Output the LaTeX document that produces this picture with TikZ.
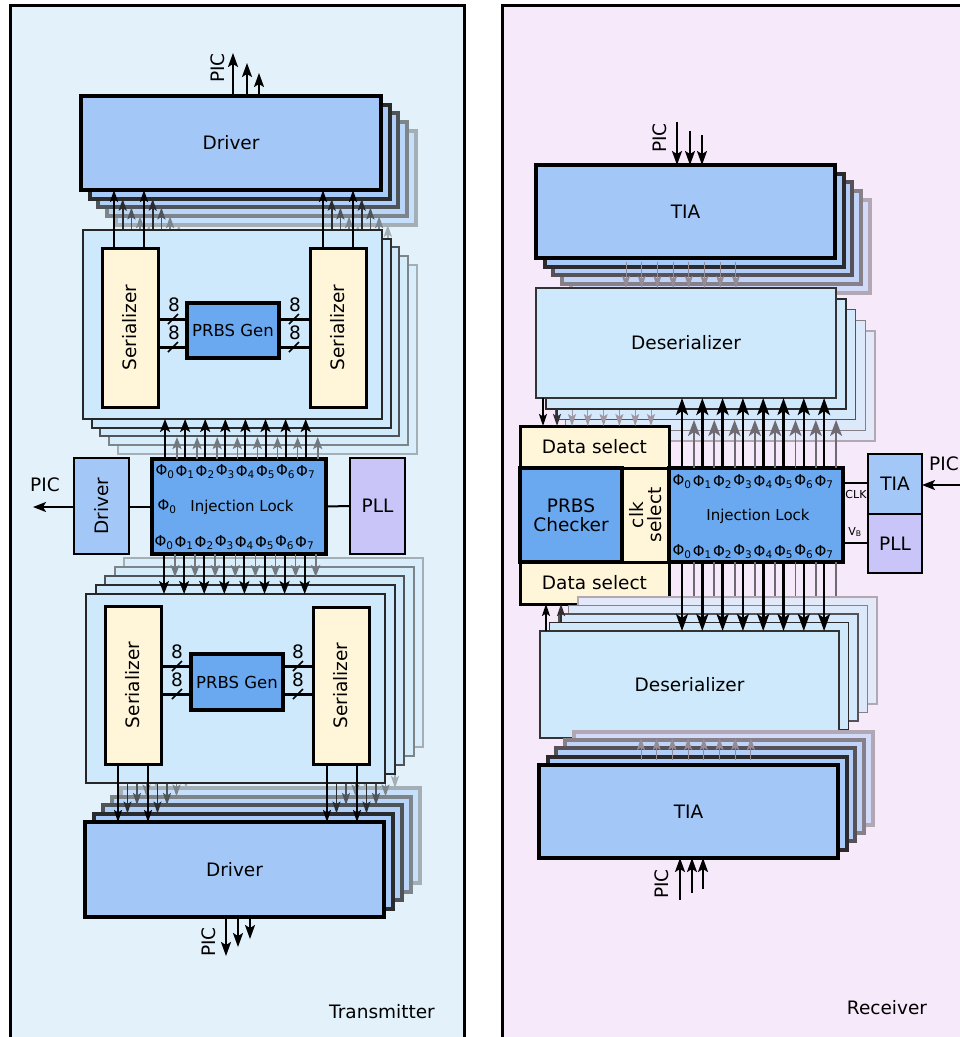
\documentclass[tikz,border=0pt]{standalone}
\usepackage{fontspec}
\setmainfont{DejaVu Sans}
\usetikzlibrary{arrows.meta}
\definecolor{txbg}{HTML}{E3F1FB}
\definecolor{rxbg}{HTML}{F6E9FA}
\definecolor{drvblue}{HTML}{A3C8F8}
\definecolor{serblk}{HTML}{CDE9FB}
\definecolor{cream}{HTML}{FFF5D8}
\definecolor{midblue}{HTML}{6AA9F0}
\definecolor{pllc}{HTML}{C9C5F8}
\colorlet{bgc}{txbg}
\newcommand\bx[7]{\node[#2, minimum width={(#5)-(#3)}, minimum height={(#6)-(#4)}] (#1) at ({((#3)+(#5))/2},{((#4)+(#6))/2}) {#7};}
\newcommand\stk[8]{\foreach \k/\dd/\ff in {4/28/45,3/45/65,2/65/82,1/82/94}{\draw[line width=#8, draw=black!\dd!bgc, fill=#7!\ff!bgc] ({(#1)+\k*(#5)},{(#2)+\k*(#6)}) rectangle ({(#3)+\k*(#5)},{(#4)+\k*(#6)});}}
\begin{document}
\begin{tikzpicture}[x=1pt,y=-1pt,
  fs/.style={font=\fontsize{18.5}{21}\selectfont},
  fsm/.style={font=\fontsize{16.5}{19}\selectfont},
  fil/.style={font=\fontsize{15}{18}\selectfont},
  fph/.style={font=\fontsize{15}{17}\selectfont},
  ftiny/.style={font=\fontsize{11}{13}\selectfont},
  box/.style={draw, inner sep=0pt, outer sep=0pt, fs},
  drv/.style={box, fill=drvblue, line width=4pt},
  blk/.style={box, fill=serblk, line width=2pt, draw=black!85},
  des/.style={box, fill=serblk, line width=1.5pt, draw=black!80},
  ser/.style={box, fill=cream, line width=3pt},
  prbs/.style={box, fill=midblue, line width=3.5pt, fsm},
  sdrv/.style={box, fill=drvblue, line width=2pt},
  pll/.style={box, fill=pllc, line width=2pt},
  sarr/.style={line width=1.8pt, -{Stealth[length=12pt,width=8pt,inset=2.5pt]}},
  parr/.style={line width=2pt, -{Stealth[length=14pt,width=10pt,inset=3pt]}},
  garr/.style={line width=1.6pt, draw=black!50!bgc, -{Stealth[length=12pt,width=9pt,inset=2.5pt]}},
  barr/.style={line width=2pt, -{Stealth[length=13pt,width=10pt,inset=3pt]}},
  rarr/.style={line width=2.6pt, -{Stealth[length=17pt,width=12pt,inset=4pt]}},
  bus/.style={line width=3pt},
  sl/.style={line width=1.5pt},
  conn/.style={line width=2pt}
]
\useasboundingbox (0,0) rectangle (960,1037);
\fill[white] (0,0) rectangle (960,1037);
\draw[line width=3pt, fill=txbg] (10,5) rectangle (464,1060);
\draw[line width=3pt, fill=rxbg] (502,5) rectangle (990,1060);
\node[fs] (txlab) at (382,1012) {Transmitter};
\node[fs] (rxlab) at (887,1008) {Receiver};

%================ TRANSMITTER upper =================
\colorlet{bgc}{txbg}
\stk{81}{96}{381}{190}{8.7}{8.7}{drvblue}{4pt}
\bx{drvT}{drv}{81}{96}{381}{190}{Driver}
\coordinate (pT1) at (233,53);
\coordinate (pT2) at (247,63);
\coordinate (pT3) at (259,73);
\draw[parr] (drvT.north -| pT3) -- (pT3);
\draw[parr] (drvT.north -| pT2) -- (pT2);
\draw[parr] (drvT.north -| pT1) -- (pT1);
\node[fs, rotate=90] (picT) at (218,68) {PIC};
\foreach \k/\dd in {4/28,3/45,2/65,1/82}{
  \foreach \x in {114,144,323,353}{
    \draw[sarr, draw=black!\dd!bgc] ({\x+\k*8.7},{230+\k*8.7}) -- ({\x+\k*8.7},{190+\k*8.7});}}
\stk{83}{230}{382}{419}{8.7}{8.7}{serblk}{2pt}
\bx{blkT}{blk}{83}{230}{382}{419}{}
\bx{serTL}{ser}{102}{248}{158}{407}{}
\node[fs, rotate=90] (serTLt) at (serTL) {Serializer};
\bx{serTR}{ser}{310}{248}{366}{407}{}
\node[fs, rotate=90] (serTRt) at (serTR) {Serializer};
\bx{prbsT}{prbs}{187}{303}{279}{358}{PRBS Gen}
\foreach \y in {319,347}{
  \draw[bus] (serTL.east |- 0,\y) -- (prbsT.west |- 0,\y);
  \draw[bus] (prbsT.east |- 0,\y) -- (serTR.west |- 0,\y);
  \draw[sl] (168,{\y+5}) -- (178,{\y-5});
  \draw[sl] (289,{\y+5}) -- (299,{\y-5});
  \node[fs] at (174,{\y-14}) {8};
  \node[fs] at (295,{\y-14}) {8};
}
\foreach \x in {114,144}{\draw[sarr] (serTL.north -| \x,0) -- (drvT.south -| \x,0);}
\foreach \x in {323,353}{\draw[sarr] (serTR.north -| \x,0) -- (drvT.south -| \x,0);}

%================ TRANSMITTER middle =================
\bx{ilT}{prbs}{152}{459}{326}{554}{}
\node[fil] (ilTt) at (242,507) {Injection Lock};
\node[fph] (ilTp) at (167,507) {Φ\textsubscript{0}};
\foreach \n in {0,...,7}{
  \pgfmathsetmacro\xx{165+20.1*\n}
  \draw[garr] ({\xx+12},459) -- ({\xx+12},437);
}
\foreach \n in {0,...,7}{
  \pgfmathsetmacro\xx{165+20.1*\n}
  \draw[barr] (ilT.north -| \xx,0) -- (blkT.south -| \xx,0);
  \node[fph] at (\xx,472) {Φ\textsubscript{\n}};
  \node[fph] at ({\xx-1},543) {Φ\textsubscript{\n}};
}
\bx{drvS}{sdrv}{74}{458}{129}{554}{}
\node[fs, rotate=90] (drvSt) at (drvS) {Driver};
\bx{pllT}{pll}{350}{458}{405}{554}{PLL}
\draw[conn] (drvS.east |- ilT.west) -- (ilT.west);
\draw[conn] (ilT.east) -- (pllT.west);
\coordinate (pL) at (33,507);
\draw[barr] (drvS.west |- pL) -- (pL);
\node[fs] (picL) at (45,485) {PIC};

%================ TRANSMITTER lower =================
\stk{85}{822}{384}{917}{9}{-8.5}{drvblue}{4pt}
\bx{drvB}{drv}{85}{822}{384}{917}{Driver}
\coordinate (pB1) at (226,956);
\coordinate (pB2) at (238,947);
\coordinate (pB3) at (250,939);
\draw[parr] (drvB.south -| pB3) -- (pB3);
\draw[parr] (drvB.south -| pB2) -- (pB2);
\draw[parr] (drvB.south -| pB1) -- (pB1);
\node[fs, rotate=90] (picB) at (209,942) {PIC};
\foreach \k/\dd in {4/28,3/45,2/65,1/82}{
  \foreach \x in {118,148,327,357}{
    \draw[sarr, draw=black!\dd!bgc] ({\x+\k*9.5},{783-\k*9}) -- ({\x+\k*9.5},{822-\k*8.5});}}
\stk{86}{594}{385}{783}{9.5}{-9}{serblk}{2pt}
\bx{blkB}{blk}{86}{594}{385}{783}{}
\bx{serBL}{ser}{105}{606}{161}{764}{}
\node[fs, rotate=90] (serBLt) at (serBL) {Serializer};
\bx{serBR}{ser}{313}{607}{369}{764}{}
\node[fs, rotate=90] (serBRt) at (serBR) {Serializer};
\bx{prbsB}{prbs}{191}{654}{283}{710}{PRBS Gen}
\foreach \y in {666,694}{
  \draw[bus] (serBL.east |- 0,\y) -- (prbsB.west |- 0,\y);
  \draw[bus] (prbsB.east |- 0,\y) -- (serBR.west |- 0,\y);
  \draw[sl] (172,{\y+5}) -- (182,{\y-5});
  \draw[sl] (293,{\y+5}) -- (303,{\y-5});
  \node[fs] at (177,{\y-14}) {8};
  \node[fs] at (298,{\y-14}) {8};
}
\foreach \x in {118,148}{\draw[sarr] (serBL.south -| \x,0) -- (drvB.north -| \x,0);}
\foreach \x in {327,357}{\draw[sarr] (serBR.south -| \x,0) -- (drvB.north -| \x,0);}
\foreach \n in {0,...,7}{
  \pgfmathsetmacro\xx{164+20.1*\n}
  \draw[garr] ({\xx+11},554) -- ({\xx+11},577);
}
\foreach \n in {0,...,7}{
  \pgfmathsetmacro\xx{164+20.1*\n}
  \draw[barr] (ilT.south -| \xx,0) -- (blkB.north -| \xx,0);
}

%================ RECEIVER upper =================
\colorlet{bgc}{rxbg}
\stk{536}{165}{835}{258}{8.7}{8.7}{drvblue}{4pt}
\bx{tiaT}{drv}{536}{165}{835}{258}{TIA}
\coordinate (qT1) at (677,122);
\coordinate (qT2) at (690,131);
\coordinate (qT3) at (702,135);
\draw[parr] (qT3) -- (tiaT.north -| qT3);
\draw[parr] (qT2) -- (tiaT.north -| qT2);
\draw[parr] (qT1) -- (tiaT.north -| qT1);
\node[fs, rotate=90] (picRT) at (660,138) {PIC};
\stk{536}{288}{836}{398}{9.75}{10.75}{serblk}{1.5pt}
\bx{desT}{des}{536}{288}{836}{398}{Deserializer}
\foreach \n in {0,...,7}{
  \pgfmathsetmacro\xx{626+15.7*\n}
  \draw[sarr, line width=1pt, draw=black!40!bgc] ({\xx},262) -- (desT.north -| \xx,0);
}

%================ RECEIVER middle =================
\bx{dselT}{ser}{520}{426}{669}{468}{Data select}
\bx{chk}{prbs}{520}{468}{622}{562}{}
\node[fs, align=center] (chkt) at (chk) {PRBS\\[-2pt]Checker};
\bx{clks}{ser}{622}{468}{669}{562}{}
\node[fs, rotate=90, align=center] (clkst) at (clks) {clk\\[-3pt]select};
\bx{dselB}{ser}{520}{562}{669}{604}{Data select}
\bx{ilR}{prbs}{669}{468}{843}{562}{}
\node[fil] (ilRt) at (758,516) {Injection Lock};
\foreach \n in {0,...,5}{
  \pgfmathsetmacro\xx{572+15.8*\n}
  \draw[sarr, line width=1pt, draw=black!35!bgc] ({\xx},410) -- (dselT.north -| \xx,0);
  \draw[sarr, line width=1pt, draw=black!35!bgc] ({\xx+5},616) -- (dselB.south -| {\xx+5},0);
}
\draw[sarr] (desT.south -| 543,0) -- (dselT.north -| 543,0);
\draw[sarr, draw=black!80!bgc] (557,409) -- (dselT.north -| 557,0);
\foreach \n in {0,...,7}{
  \pgfmathsetmacro\xx{682+20.3*\n}
  \draw[line width=1.8pt, draw=black!55!bgc, -{Stealth[length=16pt,width=12pt,inset=4pt]}] ({\xx+12},468) -- ({\xx+12},420);
  \draw[line width=1.8pt, draw=black!55!bgc, -{Stealth[length=16pt,width=12pt,inset=4pt]}] ({\xx+12},562) -- ({\xx+12},614);
}
\foreach \n in {0,...,7}{
  \pgfmathsetmacro\xx{682+20.3*\n}
  \draw[rarr] (ilR.north -| \xx,0) -- (desT.south -| \xx,0);
  \node[fph] at (\xx,482) {Φ\textsubscript{\n}};
  \node[fph] at (\xx,552) {Φ\textsubscript{\n}};
}
\bx{tiaS}{sdrv}{868}{454}{922}{514}{TIA}
\bx{pllS}{pll}{868}{514}{922}{573}{PLL}
\draw[conn] (ilR.east |- 0,483) -- (tiaS.west |- 0,483);
\draw[conn] (ilR.east |- 0,543) -- (pllS.west |- 0,543);
\node[ftiny] (clkl) at (856,494) {CLK};
\node[ftiny] (vbl) at (855,532) {V\textsubscript{B}};
\coordinate (pR) at (963,485);
\draw[barr] (pR) -- (tiaS.east |- pR);
\node[fs] (picR) at (944,464) {PIC};

%================ RECEIVER lower =================
\stk{540}{631}{839}{738}{9.5}{-8.5}{serblk}{1.5pt}
\bx{desB}{des}{540}{631}{839}{738}{Deserializer}
\stk{539}{765}{838}{858}{8.7}{-8.3}{drvblue}{4pt}
\bx{tiaB}{drv}{539}{765}{838}{858}{TIA}
\foreach \n in {0,...,7}{
  \pgfmathsetmacro\xx{641+15.7*\n}
  \draw[sarr, line width=1pt, draw=black!40!bgc] ({\xx},760) -- (desB.south -| \xx,0);
}
\coordinate (qB1) at (680,900);
\coordinate (qB2) at (692,893);
\coordinate (qB3) at (703,889);
\draw[parr] (qB3) -- (tiaB.south -| qB3);
\draw[parr] (qB2) -- (tiaB.south -| qB2);
\draw[parr] (qB1) -- (tiaB.south -| qB1);
\node[fs, rotate=90] (picRB) at (662,884) {PIC};
\draw[sarr] (desB.north -| 546,0) -- (dselB.south -| 546,0);
\draw[sarr, draw=black!80!bgc] (561,623) -- (dselB.south -| 561,0);
\foreach \n in {0,...,7}{
  \pgfmathsetmacro\xx{682+20.3*\n}
  \draw[rarr] (ilR.south -| \xx,0) -- (desB.north -| \xx,0);
}
\end{tikzpicture}
\end{document}
